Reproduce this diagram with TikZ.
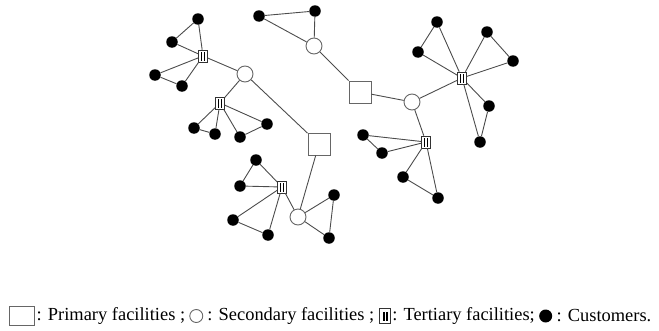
\documentclass[tikz,border=0pt]{standalone}
\usepackage{fontspec}
\setmainfont{Liberation Serif}
\usetikzlibrary{positioning}

\tikzset{
  prim/.style={draw=black!60, fill=white, rectangle, minimum size=22bp, line width=0.9pt},
  sec/.style={draw=black!60, fill=white, circle, minimum size=16bp, line width=0.9pt},
  tert/.style={draw=black!80, fill=white, rectangle, minimum width=9bp, minimum height=12bp, line width=0.6pt},
  cust/.style={fill=black, circle, minimum size=11.5bp},
  link/.style={draw=black!70, line width=0.9pt},
  legtext/.style={font=\fontsize{18.5}{20}\selectfont, inner sep=0pt}
}
\newcommand{\bars}{\rule{1.7bp}{9bp}\hspace{1.1bp}\rule{1.7bp}{9bp}}

\begin{document}
\begin{tikzpicture}[x=10bp,y=10bp]
\tikzstyle{every node}+=[inner sep=0pt]
\useasboundingbox (0,0) rectangle (65.9,-33.1);
% facilities
\node [prim] (p1) at (36.0,-9.2) {};
\node [prim] (p2) at (31.9,-14.4) {};
\node [sec] (s1) at (31.4,-4.6) {};
\node [sec] (s2) at (24.5,-7.4) {};
\node [sec] (s3) at (41.2,-10.2) {};
\node [sec] (s4) at (29.8,-21.7) {};
\node [tert] (t1) at (20.3,-5.6) {\bars};
\node [tert] (t2) at (22.0,-10.3) {\bars};
\node [tert] (t3) at (46.2,-7.8) {\bars};
\node [tert] (t4) at (42.6,-14.2) {\bars};
\node [tert] (t5) at (28.2,-18.7) {\bars};
% customers
\node [cust] (c1) at (25.9,-1.6) {};
\node [cust] (c2) at (31.5,-1.1) {};
\node [cust] (c3) at (19.8,-1.9) {};
\node [cust] (c4) at (17.2,-4.2) {};
\node [cust] (c5) at (15.5,-7.5) {};
\node [cust] (c6) at (18.2,-8.6) {};
\node [cust] (c7) at (19.4,-12.8) {};
\node [cust] (c8) at (21.5,-13.4) {};
\node [cust] (c9) at (24.0,-13.7) {};
\node [cust] (c10) at (26.7,-12.4) {};
\node [cust] (c11) at (43.7,-2.2) {};
\node [cust] (c12) at (41.8,-5.2) {};
\node [cust] (c13) at (48.7,-3.2) {};
\node [cust] (c14) at (51.3,-6.1) {};
\node [cust] (c15) at (48.9,-10.6) {};
\node [cust] (c16) at (48.0,-14.2) {};
\node [cust] (c17) at (36.3,-13.5) {};
\node [cust] (c18) at (38.2,-15.3) {};
\node [cust] (c19) at (40.3,-17.7) {};
\node [cust] (c20) at (43.8,-19.8) {};
\node [cust] (c21) at (25.6,-16.0) {};
\node [cust] (c22) at (24.0,-18.6) {};
\node [cust] (c23) at (23.3,-22.0) {};
\node [cust] (c24) at (26.8,-23.5) {};
\node [cust] (c25) at (33.4,-19.5) {};
\node [cust] (c26) at (32.9,-23.8) {};
% facility links
\foreach \a/\b in {s1/p1, p1/s3, s3/t3, s3/t4, s2/p2, s2/t1, s2/t2, p2/s4, s4/t5}
  \draw [link] (\a) -- (\b);
% customer triangles
\foreach \a/\b/\c in {s1/c1/c2, t1/c3/c4, t1/c5/c6, t2/c7/c8, t2/c9/c10,
    t3/c11/c12, t3/c13/c14, t3/c15/c16, t4/c17/c18, t4/c19/c20,
    t5/c21/c22, t5/c23/c24, s4/c25/c26}
  \draw [link] (\a) -- (\b) -- (\c) -- (\a);
% legend
\node [prim, minimum width=25bp, minimum height=19bp, line width=1pt] (lp) at (2.2,-31.6) {};
\node [legtext, right=1.5bp of lp] (lpt) {: Primary facilities ;};
\node [sec, minimum size=13bp, right=4bp of lpt] (ls) {};
\node [legtext, right=4bp of ls] (lst) {: Secondary facilities ;};
\node [tert, minimum width=11bp, minimum height=15bp, right=5bp of lst] (lt) {\bars};
\node [legtext, right=1bp of lt] (ltt) {: Tertiary facilities;};
\node [cust, minimum size=13bp, right=4bp of ltt] (lc) {};
\node [legtext, right=4bp of lc] (lct) {: Customers.};
\end{tikzpicture}
\end{document}
